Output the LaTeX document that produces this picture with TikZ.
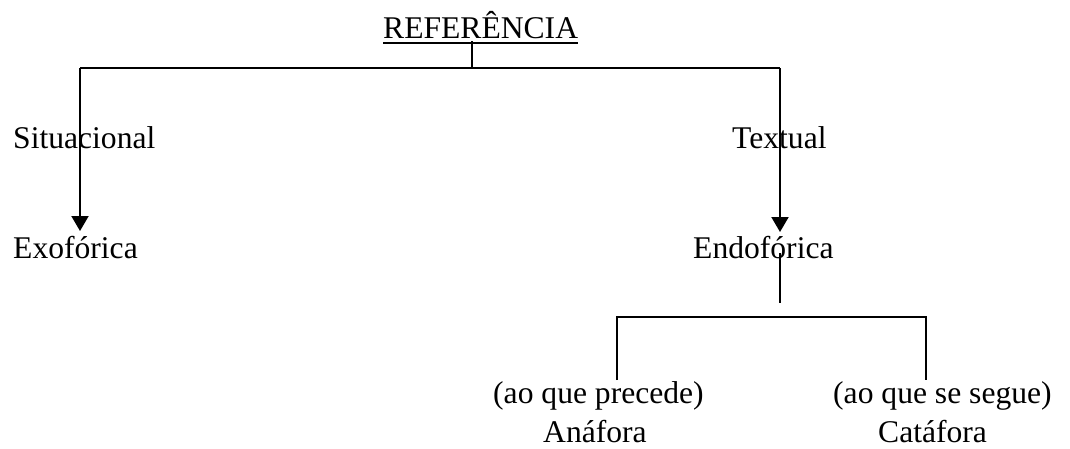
\documentclass[tikz,border=0pt]{standalone}
\usepackage{fontspec}
\setmainfont{Liberation Serif}
\usetikzlibrary{arrows.meta}
\begin{document}
\begin{tikzpicture}[x=1pt,y=-1pt,
        word/.style={anchor=base west,inner sep=0pt,font=\fontsize{31.6}{36}\selectfont},
        link/.style={line width=2pt},
        arr/.style={line width=2pt,-{Triangle[width=17pt,length=15pt]}}]
    \useasboundingbox (0,0) rectangle (1070,448);
    % words
    \node[word] (ref) at (383,38) {REFERÊNCIA};
    \node[word] (sit) at (13,148) {Situacional};
    \node[word] (tex) at (732,148) {Textual};
    \node[word] (exo) at (13,258) {Exofórica};
    \node[word] (endo) at (693,258) {Endofórica};
    \node[word] (prec) at (493,403) {(ao que precede)};
    \node[word] (ana) at (543,442) {Anáfora};
    \node[word] (segue) at (833,403) {(ao que se segue)};
    \node[word] (cata) at (878,442) {Catáfora};
    % joints
    \coordinate (refstem) at (472,41);
    \coordinate (fork) at (472,68);
    \coordinate (sitcorner) at (80,68);
    \coordinate (texcorner) at (780,68);
    \coordinate (exotip) at (80,231);
    \coordinate (endotip) at (780,232);
    \coordinate (endostem) at (780,253);
    \coordinate (endofork) at (780,303);
    \coordinate (anacorner) at (617,317);
    \coordinate (catcorner) at (926,317);
    \coordinate (anaend) at (617,380);
    \coordinate (cataend) at (926,380);
    % lines
    \draw[link] ([yshift=-5pt]ref.base west) -- ([yshift=-5pt]ref.base east);
    \draw[link] (refstem) -- (fork);
    \draw[link] (sitcorner) -- (texcorner);
    \draw[arr] (sitcorner) -- (exotip);
    \draw[arr] (texcorner) -- (endotip);
    \draw[link] (endostem) -- (endofork);
    \draw[link] (anaend) -- (anacorner) -- (catcorner) -- (cataend);
\end{tikzpicture}
\end{document}
